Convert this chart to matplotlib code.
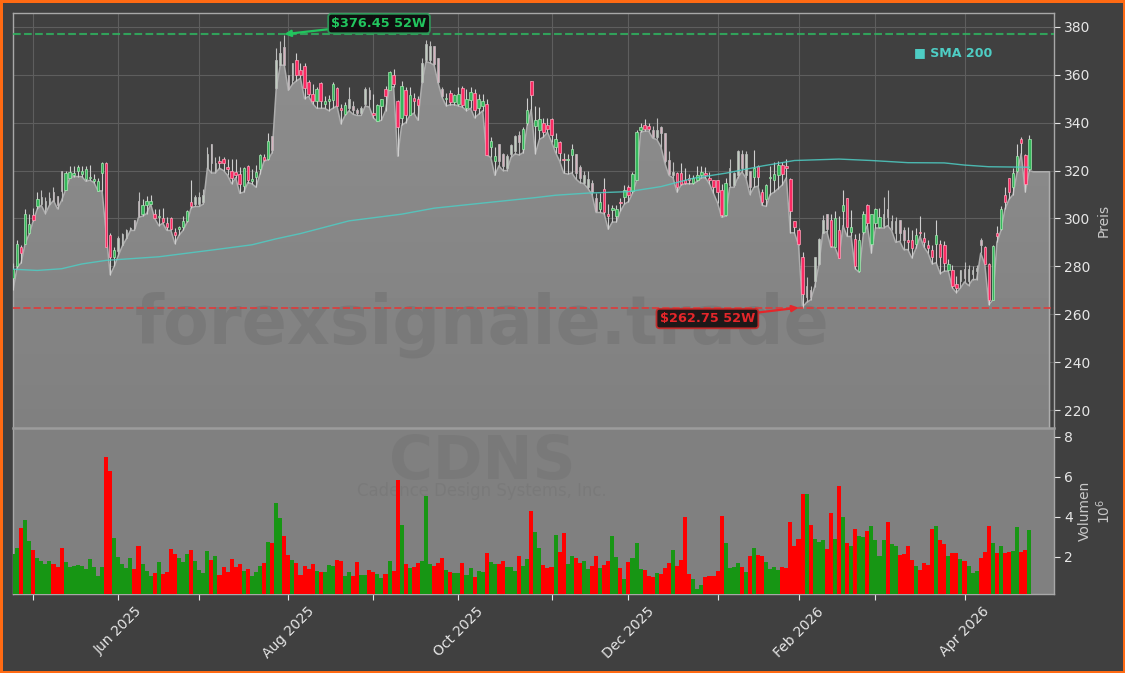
import numpy as np
import matplotlib
matplotlib.use('Agg')
import matplotlib.pyplot as plt

# candles, one value per trading day, 10 per row
highs = [281.5,291,289,304,302,304.5,311,312,309,311,
         313,309.5,320,320,322,322,322.5,322,322,322.5,
         318.5,317,323.5,323.5,294,288,292.5,294,295.5,296.5,
         299.5,311,308,309.5,310,304,304,304.5,300.5,300.5,
         296,297,301,303.5,316,310,311,312.5,330,331,
         325.5,326,325.5,325,325,325,321.5,321.5,322.5,320.5,
         322.5,327,327,335.5,334.5,371,374,376.45,360,365,
         369,365,365,358,356,355,357,351,351.5,357,
         355,348,348.5,355,349,346,347,355,355,352,
         348,350,355.5,361.5,362.5,349.5,357.5,355,355,352.5,
         351,367,374.5,374,372,367,355,352.5,353.5,352,
         355,355.5,354,355,354,352,352,350,334,330,
         331,327.5,327,331,335,336.5,338,350.5,357.5,347,
         346.5,342,342,342,335.5,332.5,327.5,327,331,327,
         322.5,320,320,316,310.5,310.5,317,306,305.5,305.5,
         308.5,314,314,319.5,337,340,341.5,340,338.5,342,
         338.5,335.5,328,323.5,319.5,323,321,318.5,318,322,
         322,321.5,319.5,316,316,314.5,317,325,319.5,328.5,
         328.5,328,320,328.5,322.5,312.5,314.5,322,323.5,324,
         323.5,325,317,299,296,286,275.5,272,284,292,
         301.5,302,302,303,301,312,308.5,303.5,293.5,294,
         303,306,302,304.5,304.5,309,312,301.5,300.5,299.5,
         296.5,296.5,295,296,301,294.5,291,289,299.5,291,
         290.5,283,280.5,276,278.5,282,280.5,280,280.5,292,
         288.5,281.5,289,297,305,313,317,321,331,334,327,335]
lows = [270,279.5,281.5,289.5,293.5,299,304,305.5,302,305.5,
        307.5,304,307.5,312,317,317.5,317.5,317.5,315.5,316,
        315,311.5,311.5,294,276.5,280,284.5,288.5,291.5,295,
        295,300.5,301,302,306,300,297,298,295,295,
        289.5,293,295,298.5,304.5,305,305,306,321,319,
        319,321,320,318,314.5,317,310.5,311,315,314.5,
        313,318.5,324,324.5,327.5,354,364,364,353.5,356,
        357.5,358.5,350,351,348,346,346,346,345,346,
        347,339.5,343,345,343.5,343,343,347,346.5,342,
        340.5,341,345,355,355,326,339,340,343,344,
        341,356.5,365.5,365,364,356.5,350.5,347,347.5,347.5,
        347,346.5,345,346,342,343.5,345,326.5,325.5,318,
        322,320,320,325.5,327,326.5,327.5,339,345.5,327,
        333,334,336,332,327.5,324,319,318.5,319,316.5,
        315,314.5,312.5,310,302.5,302.5,302,295.5,298.5,298.5,
        303,306,307,310.5,316,336,336.5,336.5,333.5,333,
        330,323,318,317,311,314,314.5,314.5,314.5,315.5,
        317,317,314.5,310.5,306.5,300.5,301,313,313,317,
        319.5,317,310,313,313.5,305.5,305,310,311,312.5,
        314,317,294,294,289,262.75,265,266,271.5,280.5,
        294,294.5,288,288,283.5,297,292.5,292.5,279,277.5,
        293.5,297,285.5,296,296,296,297,295,290,290.5,
        287,287,283.5,287.5,292.5,288,285.5,281,281.5,277,
        278,278,271,269,271,273.5,272,274.5,274.5,285.5,
        281,264,266,290,295,304,308,310,319.5,327,311,320]
opens = [275,280,288,289.5,294,301.5,305,306,304,306,
         311,309.5,320,312,317,318,320,318.5,316.5,317,
         315.5,311.5,319,323,293,284,286.5,289,292,295.5,
         299.5,307.5,302,305.5,306,302,300.5,300,298,300,
         294.5,295.5,296.5,299,307,306,306,307,321,331,
         320,324,325,321.5,320,319.5,318.5,313.5,322,315.5,
         317.5,320.5,325.5,325,334.5,354.5,364,371.5,360,358,
         366,362,363.5,357,352,349,356.5,348,349,349.5,
         354.5,346,343.5,346,347,345.5,344,348,353.5,344,
         340.5,347,354,353.5,360,349,342,353.5,343,350.5,
         350,357,366,366,372,367,354,350,352.5,348.5,
         348,354.5,346,349.5,352.5,346,347,348,330,324,
         331,327,321,327,328,335,329,340,357.5,338.5,
         337,340,339,341.5,330,332,325,324.5,326.5,327,
         321.5,315,313,315,308.5,304,312.5,302,303.5,301,
         307,309,313,311.5,316,337,339,338.5,337,334,
         338,335.5,324.5,318,319,319,316,317,315,316,
         318,319,317,316,316,312,301.5,314,314,318,
         327,318,320,317.5,322,311,308,317,316,318,
         322.5,322,316.5,299,295,284,267,270,274,281,
         294,302,299.5,288,295,303,308.5,294.5,291.5,278,
         294.5,305.5,289.5,298,296.5,297,304,296,294,299.5,
         295,291,291,289.5,294.5,292,289,287,289.5,289.5,
         289,278.5,278.5,272.5,274,279,274,277,278,291,
         288,281,266,294,295.5,310,317,313,320,333,326.5,320.5]
closes = [279,289.5,285.5,302,297.5,299.5,308,309,307.5,308.5,
          307.5,305.5,311.5,319,319.5,319,321.5,320,320.5,317.5,
          316.5,315.5,323,288,284,287,292,293.5,295,296,
          296,301,305.5,307.5,307.5,300,301,298.5,296.5,295.5,
          293,296.5,299,303,305,309,309,310,327,323,
          323,323,323,320.5,317,318,314.5,321,316,316.5,
          319.5,326.5,324.5,332.5,328.5,366,369,364,354,365,
          360,360,354.5,352,349,354,349,349,350,356,
          347,345.5,347.5,350,345.5,344,346,354,350,343,
          347.5,350,351,361,356,338,355.5,343,351.5,349,
          347.5,365,373,372,364.5,357,351,350.5,348.5,351.5,
          352,347.5,350,353,345.5,350,349,326.5,332.5,326,
          324,322,326,330.5,334.5,332,337.5,345.5,351.5,341,
          341.5,336,337.5,335,333,327.5,324.5,325,329,319,
          317,318,316.5,311,303,307,302.5,301,304.5,304,
          306.5,312,310,318.5,336,338,337.5,337.5,334,337,
          335.5,324,318.5,319.5,313,314.5,315,316,317,318,
          319.5,318,316,313,311,301.5,315,321,319,328,
          321,327,313,321,317.5,307,314,317.5,318.5,322.5,
          318.5,321,303,296.5,289.5,268.5,272,267,284,291.5,
          299.5,295.5,288.5,300,283.5,305.5,296.5,296.5,280,291,
          302,298,302,304,300.5,302,300.5,299,299,294,
          291,290,287.5,293,294,290,287.5,284,293,284,
          281.5,281,272,271,278.5,275,279,278.5,279.5,289,
          281,266,288.5,292.5,304,307,311,319,326,331.5,314.5,333]
# volume in millions
volumes = [2.17,2.44,3.43,3.83,2.79,2.34,1.94,1.79,1.66,1.79,
           1.64,1.49,2.44,1.74,1.49,1.53,1.59,1.54,1.41,1.89,
           1.49,1.05,1.49,7.02,6.32,2.94,1.99,1.64,1.44,1.94,
           1.39,2.54,1.64,1.29,1.05,1.19,1.74,1.14,1.24,2.39,
           2.14,1.94,1.74,2.14,2.34,1.79,1.34,1.19,2.29,1.84,
           2.04,1.10,1.49,1.24,1.89,1.49,1.64,1.29,1.39,1.05,
           1.24,1.54,1.69,2.74,2.69,4.68,3.93,3.04,2.09,1.84,
           1.69,1.10,1.54,1.39,1.64,1.29,1.24,1.24,1.59,1.54,
           1.84,1.79,1.05,1.24,1.05,1.74,1.10,1.10,1.34,1.24,
           1.14,0.95,1.14,1.79,1.29,5.87,3.58,1.64,1.44,1.49,
           1.69,1.79,5.03,1.64,1.54,1.69,1.94,1.34,1.24,1.19,
           1.19,1.69,1.10,1.44,1.00,1.29,1.24,2.19,1.74,1.64,
           1.64,1.79,1.49,1.49,1.29,2.04,1.54,1.89,4.28,3.23,
           2.44,1.59,1.44,1.49,3.09,2.24,3.18,1.64,2.04,1.94,
           1.69,1.79,1.39,1.54,2.04,1.44,1.59,1.79,3.04,1.99,
           1.44,0.90,1.74,1.94,2.69,1.39,1.34,1.05,1.00,1.19,
           1.14,1.44,1.69,2.34,1.54,1.84,3.98,1.14,0.90,0.40,
           0.60,1.00,1.05,1.05,1.29,4.03,2.69,1.44,1.49,1.69,
           1.49,1.24,2.04,2.44,2.09,2.04,1.74,1.39,1.49,1.34,
           1.49,1.44,3.73,2.54,2.89,5.17,5.17,3.58,2.89,2.74,
           2.84,2.39,4.18,2.89,5.57,3.98,2.69,2.54,3.38,3.04,
           2.99,3.28,3.53,2.84,2.04,2.84,3.73,2.64,2.54,2.09,
           2.14,2.54,1.84,1.54,1.34,1.69,1.59,3.38,3.53,2.84,
           2.64,2.04,2.19,2.19,1.89,1.79,1.54,1.19,1.29,1.94,
           2.24,3.53,2.69,2.19,2.54,2.19,2.24,2.29,3.48,2.24,2.34,3.33]

# SMA 200
sma_days = [0,6,12,17,23,36,43,50,59,65,71,83,96,104,117,129,134,142,152,160,
            168,176,185,193,204,212,221,230,235,241,251]
sma_vals = [278.8,278.3,279,281,282.5,284,285.5,287,289,291.5,293.7,299,301.8,304.3,306.6,
            308.7,309.7,310.6,311.2,313.3,316.8,318.9,321.9,324.2,324.8,324.2,323.3,323.2,
            322.3,321.6,321.4]

# groups of candles that show up washed out in the chart
washed_out = [7,26,45,64,83,101,120,139,158,177,196,215,234]

month_days = [5,26,46,68,89,110,133,152,174,194,213,235]
month_labels = ['','Jun 2025','','Aug 2025','','Oct 2025','','Dec 2025','','Feb 2026','','Apr 2026']

high_52w = 376.45
low_52w = 262.75
high_day = 67
low_day = 195
last_day = 256
last_price = 319.5

W, H = 1125, 673
left, right, top, mid, bottom = 13, 1054, 13, 428, 594
bg = '#404040'
txt = '#e6e6e6'

plt.rcParams['font.family'] = 'DejaVu Sans'
fig = plt.figure(figsize=(W/100, H/100), dpi=100, facecolor=bg, edgecolor='#ff6a13', linewidth=2.4)
ax = fig.add_axes([left/W, 1-mid/H, (right-left)/W, (mid-top)/H], facecolor=bg)
axv = fig.add_axes([left/W, 1-bottom/H, (right-left)/W, (bottom-mid)/H], facecolor='#808080', sharex=ax)

days = np.arange(len(closes))
o = np.array(opens)
c = np.array(closes)
up = c >= o

# grid and area under the lows, the fill fades a little downwards
ax.set_axisbelow(True)
ax.grid(True, color='#5e5e5e', lw=0.8)
area_x = np.concatenate([days, [252, last_day]])
area_y = np.concatenate([lows, [last_price, last_price]])
poly = ax.fill_between(area_x, area_y, 200, color='none', lw=0)
fade = np.linspace(0x8e, 0x80, 64).reshape(-1, 1)
shade = ax.imshow(fade, extent=(0, last_day, 212.5, 378), aspect='auto', cmap='gray', vmin=0, vmax=255, zorder=2)
shade.set_clip_path(poly.get_paths()[0], transform=ax.transData)
ax.plot(np.append(area_x, last_day), np.append(area_y, 200), color='#adadad', lw=1.1, zorder=3)

ax.text(0.4505, 0.248, 'forexsignale.trade', transform=ax.transAxes, ha='center', va='center',
        fontsize=48, fontweight='bold', color='#747474', alpha=0.65, zorder=4)

# candles
washed = np.zeros(len(days), dtype=bool)
for s in washed_out:
    washed[s:s+6] = True
wick = np.where(washed, '#bdbdbd', '#cfcfcf')
ax.vlines(days, lows, highs, colors=wick, lw=0.8, zorder=5)
face = np.where(up, '#35b85c', '#fb2a63')
edge = np.where(up, '#a9e6b3', '#ffa3ba')
face = np.where(washed & up, '#bfcdbf', face)
face = np.where(washed & ~up, '#d6b2be', face)
edge = np.where(washed, '#bcbcbc', edge)
width = np.where(washed, 0.4, 0.62)
ax.bar(days, np.abs(c-o), bottom=np.minimum(o, c), width=width, color=face, edgecolor=edge, lw=0.5, zorder=6)

ax.plot(sma_days, sma_vals, color='#4ecdc4', lw=1.0, alpha=0.85, zorder=7)

ax.axhline(high_52w+0.5, color='#2fb35f', ls='--', lw=1.5, alpha=0.85, zorder=8)
ax.axhline(low_52w, color='#e03a3a', ls='--', lw=1.4, alpha=0.85, zorder=8)

ax.annotate('$376.45 52W', xy=(high_day, high_52w+0.5), xytext=(90.4, 381.4), ha='center', va='center',
            fontsize=9.3, fontweight='bold', color='#22c55e', zorder=10,
            bbox=dict(boxstyle='round,pad=0.25', fc='#0b0b0b', ec='#2e9e5b', lw=1.3, alpha=0.92),
            arrowprops=dict(arrowstyle='-|>', color='#22c55e', lw=1.6, shrinkA=0, shrinkB=0))
ax.annotate('$262.75 52W', xy=(low_day-1, low_52w), xytext=(171.5, 258.2), ha='center', va='center',
            fontsize=9.3, fontweight='bold', color='#e5262a', zorder=10,
            bbox=dict(boxstyle='round,pad=0.25', fc='#161010', ec='#c92a2a', lw=1.3, alpha=0.92),
            arrowprops=dict(arrowstyle='-|>', color='#e5262a', lw=1.6, shrinkA=0, shrinkB=0))

ax.text(222.5, 369.1, '■ SMA 200', color='#4ecdc4', fontsize=9.1, fontweight='bold',
        ha='left', va='center', zorder=10)

ax.set_xlim(0, 257.1)
ax.set_ylim(212.5, 385.8)
ax.set_yticks([220,240,260,280,300,320,340,360,380])
ax.yaxis.tick_right()
ax.yaxis.set_label_position('right')
ax.set_ylabel('Preis', color='#c8c8c8', fontsize=10, labelpad=4.5)
ax.tick_params(axis='y', colors=txt, labelsize=10, length=4, width=0.8)
ax.tick_params(axis='x', length=0, labelbottom=False)
ax.set_xticks(month_days)

# volume panel
bar_colors = np.where(up, '#179614', '#ff0000')
axv.bar(days, volumes, width=1.0, color=bar_colors, lw=0, zorder=3)
axv.grid(False)
axv.text(0.4505, 0.795, 'CDNS', transform=axv.transAxes, ha='center', va='center',
         fontsize=43, fontweight='bold', color='#747474', alpha=0.55, zorder=1)
axv.text(0.4505, 0.62, 'Cadence Design Systems, Inc.', transform=axv.transAxes, ha='center', va='center',
         fontsize=11.9, color='#747474', alpha=0.5, zorder=1)
axv.set_ylim(0.15, 8.45)
axv.set_yticks([2,4,6,8])
axv.yaxis.tick_right()
axv.yaxis.set_label_position('right')
axv.set_ylabel('Volumen\n$10^6$', color='#c8c8c8', fontsize=10, labelpad=3)
axv.tick_params(axis='y', colors=txt, labelsize=10, length=4, width=0.8)
axv.set_xticks(month_days)
axv.set_xticklabels(month_labels, rotation=45, ha='center', color=txt, fontsize=10)
axv.tick_params(axis='x', colors=txt, length=4, width=0.8)

for a in (ax, axv):
    for sp in a.spines.values():
        sp.set_color('#a8a8a8')
        sp.set_linewidth(1.0)
# thick divider between the panels
axv.spines['top'].set_color('#9c9c9c')
axv.spines['top'].set_linewidth(1.8)
ax.spines['bottom'].set_visible(False)

fig.savefig('out.png', dpi=100, facecolor=fig.get_facecolor(), edgecolor=fig.get_edgecolor())
